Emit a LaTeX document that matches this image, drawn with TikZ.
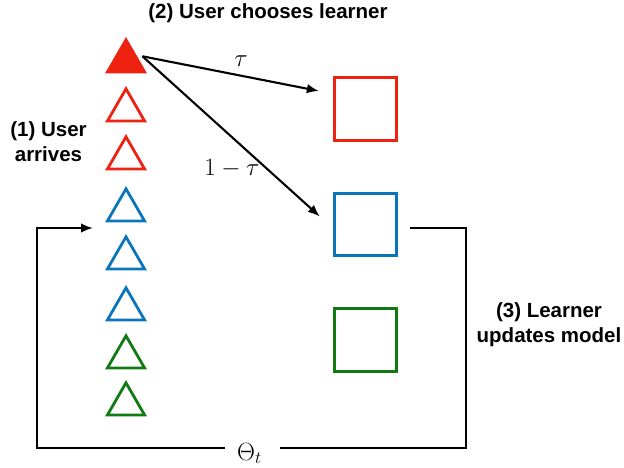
\documentclass[tikz,border=0pt]{standalone}
\usepackage{fontspec}
\setmainfont{Liberation Sans}
\usetikzlibrary{arrows.meta,shapes.geometric}
\definecolor{userred}{RGB}{238,34,17}
\definecolor{userblue}{RGB}{11,117,188}
\definecolor{usergreen}{RGB}{18,122,18}
\begin{document}
\begin{tikzpicture}[x=1pt,y=-1pt,
  user/.style={regular polygon, regular polygon sides=3, minimum size=43pt,
    inner sep=0pt, outer sep=0pt, line width=2.8pt},
  learner/.style={rectangle, minimum size=62.5pt, inner sep=0pt, line width=2.8pt},
  tip/.style={-{Latex[length=12pt,width=9.5pt]}},
  flow/.style={line width=2.1pt, tip},
  loopline/.style={line width=2.2pt},
  caption/.style={font=\bfseries\fontsize{20.5}{25}\selectfont, align=center, inner sep=0pt},
  mathlbl/.style={font=\fontsize{24}{28}\selectfont, inner sep=0pt}]
\useasboundingbox (0,0) rectangle (624,467);

% queue of arriving users
\node[user, draw=userred, fill=userred] (u0) at (126,61.3) {};
\node[user, draw=userred]   (u1) at (126,110.3) {};
\node[user, draw=userred]   (u2) at (126,158.3) {};
\node[user, draw=userblue]  (u3) at (126,210.3) {};
\node[user, draw=userblue]  (u4) at (126,258.3) {};
\node[user, draw=userblue]  (u5) at (126,309.3) {};
\node[user, draw=usergreen] (u6) at (126,357.3) {};
\node[user, draw=usergreen] (u7) at (126,404.3) {};

% learners
\node[learner, draw=userred]   (lr) at (365.5,109) {};
\node[learner, draw=userblue]  (lb) at (365.5,224.5) {};
\node[learner, draw=usergreen] (lg) at (365.5,340) {};

% captions
\node[caption] (c2) at (268,13) {(2) User chooses learner};
\node[caption] (c1) at (48.5,142) {(1) User\\arrives};
\node[caption] (c3) at (549,325) {(3) Learner\\updates model};

% choice of learner
\draw[flow] ([shift={(4,-5)}]u0.east) -- ([shift={(-14,-18)}]lr.west);
\draw[flow] ([shift={(4,-5)}]u0.east) -- ([shift={(-13,-8)}]lb.west);
\node[mathlbl] (tau) at (241,61) {$\tau$};
\node[mathlbl] (onemtau) at (232,169) {$1-\tau$};

% model update loop
\node[mathlbl, anchor=base west] (theta) at (237,460) {$\Theta_t$};
\coordinate (loopR) at (466,448);
\coordinate (loopL) at (37,448);
\coordinate (entry) at (93,228);
\draw[loopline] ([shift={(12,3.5)}]lb.east) -| (loopR) -- ([xshift=18pt]theta.east |- loopR);
\draw[loopline, tip] ([xshift=-12pt]theta.west |- loopL) -- (loopL) |- (entry);
\end{tikzpicture}
\end{document}
